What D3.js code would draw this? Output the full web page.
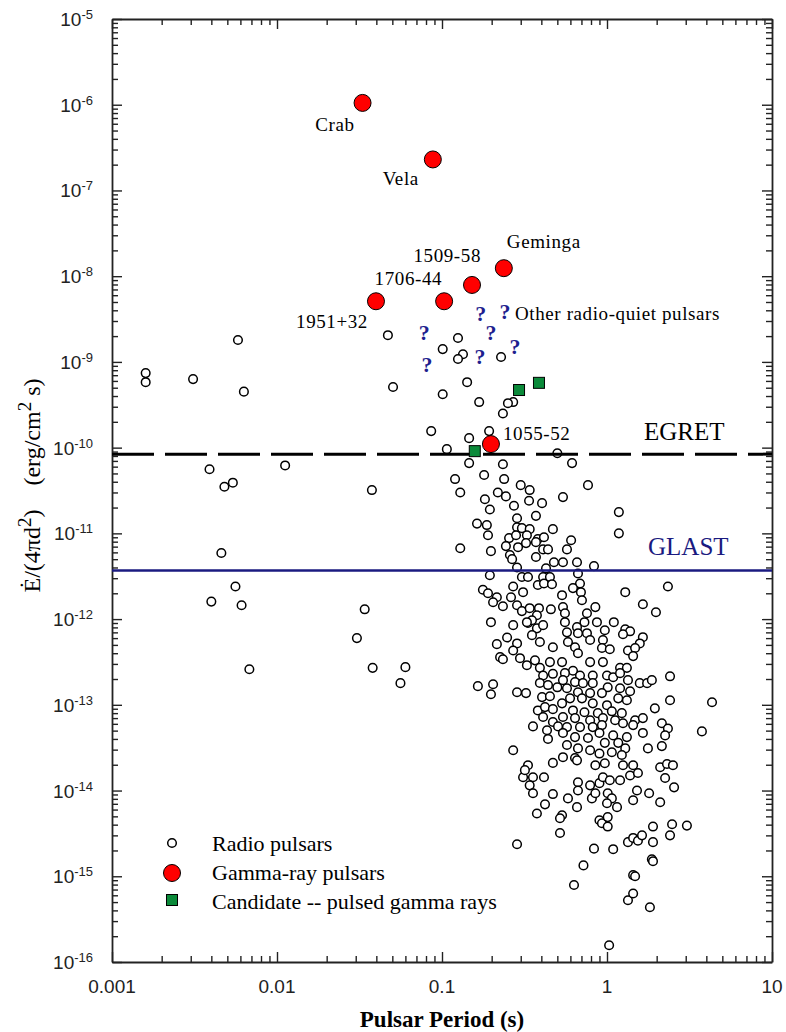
<!DOCTYPE html>
<html>
<head>
<meta charset="utf-8">
<script src="https://cdn.jsdelivr.net/npm/d3@7/dist/d3.min.js"></script>
<style>
  body { margin: 0; background: #fff; }
  svg text { font-family: "Liberation Serif", "Times New Roman", serif; }
  .tick-label { font-family: "Liberation Sans", Arial, sans-serif; font-size: 19px; fill: #222; }
</style>
</head>
<body>
<svg id="chart" width="786" height="1032"></svg>
<script>
// ---- data ----
var xTickValues = [0.001, 0.01, 0.1, 1, 10];
var xTickLabels = ['0.001', '0.01', '0.1', '1', '10'];
var yExponents = [-16, -15, -14, -13, -12, -11, -10, -9, -8, -7, -6, -5];

var gammaNames  = ['Crab', 'Vela', 'Geminga', '1509-58', '1706-44', '1951+32', '1055-52'];
var gammaPeriod = [0.033, 0.088, 0.237, 0.152, 0.103, 0.0398, 0.198];
var gammaFlux   = [1.05e-6, 2.3e-7, 1.24e-8, 7.9e-9, 5.1e-9, 5.1e-9, 1.1e-10];

var candidatePeriod = [0.158, 0.293, 0.387];
var candidateFlux   = [9.1e-11, 4.7e-10, 5.7e-10];

var quietPeriod = [0.078, 0.081, 0.172, 0.241, 0.198, 0.17, 0.277];
var quietFlux   = [2.2e-9, 9.2e-10, 3.6e-9, 3.8e-9, 2.2e-9, 1.14e-9, 1.5e-9];

var egretFlux = 8.4e-11;
var glastFlux = 3.7e-12;

var legendLabels = ['Radio pulsars', 'Gamma-ray pulsars', 'Candidate -- pulsed gamma rays'];

// radio pulsars: [period (s), flux (erg/cm2 s)]
var radioPulsars = [
  [0.0016, 7.4e-10], [0.0016, 5.8e-10], [0.0031, 6.3e-10], [0.0058, 1.8e-9], [0.0063, 4.5e-10],
  [0.0039, 5.6e-11], [0.0048, 3.5e-11], [0.0054, 3.9e-11], [0.0112, 6.2e-11], [0.0376, 3.2e-11],
  [0.0046, 5.9e-12], [0.0056, 2.4e-12], [0.0040, 1.6e-12], [0.0061, 1.45e-12], [0.0068, 2.6e-13],
  [0.034, 1.3e-12], [0.0305, 6.0e-13], [0.038, 2.7e-13],
  [0.047, 2.05e-9], [0.125, 1.9e-9], [0.101, 1.41e-9], [0.134, 1.23e-9], [0.125, 1.08e-9],
  [0.228, 1.14e-9], [0.0505, 5.1e-10], [0.142, 5.8e-10], [0.101, 4.2e-10], [0.168, 3.4e-10],
  [0.27, 3.4e-10], [0.251, 3.3e-10], [0.234, 2.5e-10], [0.086, 1.56e-10], [0.193, 1.56e-10],
  [0.146, 1.29e-10],
  [0.107, 9.6e-11], [0.234, 6.4e-11], [0.146, 6.6e-11], [0.50, 8.6e-11], [0.12, 4.3e-11],
  [0.18, 4.8e-11], [0.238, 4.3e-11], [0.129, 3.0e-11], [0.30, 3.65e-11], [0.34, 3.2e-11],
  [0.218, 3.0e-11], [0.244, 2.7e-11], [0.182, 2.5e-11], [0.337, 2.4e-11], [0.404, 2.25e-11],
  [0.195, 1.9e-11], [0.273, 2.1e-11], [0.371, 1.6e-11], [0.285, 1.5e-11], [0.163, 1.3e-11],
  [0.187, 1.25e-11], [0.19, 9.5e-12], [0.285, 1.18e-11], [0.305, 1.15e-11], [0.34, 1.12e-11],
  [0.47, 1.12e-11], [0.255, 8.8e-12], [0.281, 9.5e-12], [0.327, 9.5e-12], [0.381, 8.6e-12],
  [0.415, 9.0e-12], [0.244, 7.1e-12], [0.289, 6.9e-12], [0.323, 7.7e-12], [0.371, 7.9e-12],
  [0.41, 6.5e-12], [0.439, 6.5e-12], [0.129, 6.7e-12], [0.198, 6.2e-12], [0.258, 5.6e-12],
  [0.266, 5.0e-12], [0.371, 5.3e-12], [0.477, 4.6e-12], [0.285, 4.0e-12], [0.427, 3.9e-12],
  [0.195, 3.25e-12], [0.305, 3.1e-12], [0.332, 3.1e-12], [0.41, 3.1e-12], [0.451, 3.1e-12],
  [0.381, 2.5e-12], [0.415, 2.6e-12], [0.464, 2.55e-12], [0.27, 2.4e-12], [0.177, 2.2e-12],
  [0.19, 2.0e-12], [0.31, 2.06e-12], [0.262, 1.8e-12], [0.215, 1.8e-12], [0.204, 1.57e-12],
  [0.234, 1.41e-12], [0.285, 1.45e-12], [0.305, 1.24e-12], [0.34, 1.34e-12], [0.387, 1.34e-12],
  [0.457, 1.3e-12], [0.376, 1.11e-12],
  [0.060, 2.75e-13], [0.056, 1.79e-13], [0.165, 1.65e-13], [0.204, 1.74e-13], [0.198, 1.33e-13],
  [0.285, 1.4e-13], [0.323, 1.37e-13], [0.198, 9.2e-13], [0.27, 8.5e-13], [0.332, 9.0e-13],
  [0.376, 7.8e-13], [0.41, 8.5e-13], [0.248, 6.1e-13], [0.215, 5.1e-13], [0.285, 5.2e-13],
  [0.225, 3.6e-13], [0.234, 3.4e-13], [0.27, 4.3e-13], [0.297, 3.5e-13], [0.327, 2.9e-13],
  [0.366, 3.3e-13], [0.351, 6.5e-13], [0.392, 5.4e-13], [0.47, 4.7e-13], [0.392, 2.7e-13],
  [0.451, 3.15e-13], [0.41, 2.2e-13], [0.47, 2.3e-13], [0.392, 1.8e-13], [0.439, 1.7e-13],
  [0.50, 1.6e-13], [0.404, 1.23e-13], [0.451, 1.26e-13], [0.381, 8.6e-14], [0.421, 9.4e-14],
  [0.47, 8.9e-14], [0.41, 7.2e-14], [0.47, 6.3e-14], [0.356, 5.6e-14], [0.433, 5.05e-14],
  [0.505, 5.6e-14], [0.439, 4.0e-14], [0.27, 2.95e-14], [0.351, 9.7e-13], [0.327, 9.2e-13],
  [0.614, 6.6e-11], [0.767, 3.65e-11], [0.541, 2.65e-11], [1.18, 1.77e-11], [1.18, 1.0e-11],
  [0.606, 8.3e-12], [0.572, 6.5e-12], [0.541, 4.6e-12], [0.658, 4.6e-12], [0.834, 4.15e-12],
  [0.667, 3.4e-12], [0.686, 2.6e-12], [0.622, 2.3e-12], [0.695, 2.06e-12], [0.705, 1.66e-12],
  [0.534, 1.9e-12], [2.34, 2.4e-12], [1.29, 2.06e-12], [1.65, 1.49e-12], [1.98, 1.2e-12],
  [0.541, 1.38e-12], [0.556, 1.17e-12], [0.756, 1.17e-12], [0.85, 1.38e-12], [0.73, 9.2e-13],
  [0.869, 9.2e-13], [1.1, 9.2e-13], [0.556, 9.2e-13], [0.658, 8.05e-13], [0.97, 7.4e-13],
  [1.29, 7.6e-13], [1.38, 7.2e-13], [0.572, 7.0e-13], [0.667, 6.85e-13], [0.756, 6.85e-13],
  [0.79, 5.7e-13], [0.945, 5.7e-13], [1.25, 6.65e-13], [1.65, 6.15e-13], [1.58, 5.2e-13],
  [0.58, 5.4e-13], [0.64, 4.7e-13], [0.932, 4.6e-13], [1.04, 4.45e-13], [1.34, 4.3e-13],
  [1.48, 4.6e-13], [1.44, 3.7e-13], [0.667, 4.0e-13], [0.945, 3.15e-13], [0.79, 3.15e-13],
  [0.534, 3.15e-13], [1.2, 2.7e-13], [1.32, 2.7e-13], [0.622, 2.5e-13], [0.556, 2.34e-13],
  [0.686, 2.2e-13], [0.82, 2.2e-13], [1.0, 2.2e-13], [1.09, 2.1e-13], [1.2, 2.34e-13],
  [1.34, 1.94e-13], [1.58, 1.79e-13], [1.75, 1.79e-13], [1.87, 1.94e-13], [2.41, 2.15e-13],
  [0.541, 1.94e-13], [0.64, 1.84e-13], [0.715, 1.79e-13], [0.82, 1.79e-13], [1.01, 1.6e-13],
  [1.2, 1.56e-13], [1.38, 1.44e-13], [0.572, 1.56e-13], [0.667, 1.4e-13], [0.79, 1.37e-13],
  [0.932, 1.37e-13], [0.597, 1.19e-13], [0.705, 1.19e-13], [0.82, 1.04e-13], [1.0, 9.9e-14],
  [1.17, 1.19e-13], [1.32, 1.13e-13], [2.41, 1.13e-13], [4.33, 1.07e-13], [1.95, 9.1e-14],
  [0.534, 1.04e-13], [0.622, 8.6e-14], [0.73, 8.2e-14], [0.88, 8.0e-14], [1.07, 8.4e-14],
  [1.23, 8.0e-14], [0.541, 7.2e-14], [0.64, 7.0e-14], [0.79, 6.6e-14], [0.945, 7.0e-14],
  [1.12, 6.6e-14], [1.48, 6.6e-14], [1.65, 7.0e-14], [2.15, 6.1e-14], [2.34, 5.3e-14],
  [0.572, 5.5e-14], [0.686, 5.5e-14], [0.82, 5.5e-14], [0.932, 5.8e-14], [1.25, 6.1e-14],
  [1.44, 5.8e-14], [1.65, 4.7e-14], [2.25, 4.4e-14], [3.76, 4.9e-14], [1.09, 4.4e-14],
  [1.32, 4.2e-14], [0.541, 4.7e-14], [0.64, 4.2e-14], [0.767, 4.1e-14], [0.90, 4.7e-14],
  [0.97, 3.6e-14], [1.17, 3.6e-14], [1.29, 3.1e-14], [2.15, 3.3e-14], [1.77, 3.1e-14],
  [0.572, 3.4e-14], [0.667, 3.1e-14], [0.79, 2.95e-14], [0.90, 2.7e-14], [1.07, 2.8e-14],
  [1.23, 2.6e-14], [0.541, 2.45e-14], [0.64, 2.4e-14],
  [0.332, 1.97e-14], [0.47, 2.1e-14], [0.658, 2.25e-14], [0.85, 1.97e-14], [0.97, 2.08e-14],
  [1.25, 1.97e-14], [1.44, 1.97e-14], [2.1, 1.87e-14], [2.31, 2.04e-14], [2.51, 1.97e-14],
  [0.31, 1.43e-14], [0.356, 1.43e-14], [0.415, 1.43e-14], [0.34, 1.15e-14], [0.318, 1.73e-14],
  [0.356, 9.3e-15], [0.47, 9.1e-15], [0.58, 8.1e-15], [0.667, 1.25e-14], [0.667, 1.0e-14],
  [0.79, 1.15e-14], [0.81, 8.1e-15], [0.90, 1.22e-14], [0.85, 9.3e-15], [0.945, 1.43e-14],
  [1.04, 1.32e-14], [1.2, 1.32e-14], [1.38, 1.5e-14], [1.52, 1.0e-14], [1.44, 7.7e-15],
  [1.54, 1.6e-14], [1.01, 9.3e-15], [1.07, 8.1e-15], [1.0, 7.1e-15], [1.15, 6.4e-15],
  [1.8, 9.3e-15], [2.1, 7.3e-15], [2.25, 1.4e-14], [2.55, 1.09e-14], [0.421, 6.9e-15],
  [0.376, 5.4e-15], [0.534, 5.15e-15], [0.519, 4.75e-15], [0.658, 6.4e-15], [0.519, 3.2e-15],
  [0.90, 4.5e-15], [0.932, 4.15e-15], [1.01, 4.9e-15], [1.01, 3.8e-15], [1.9, 3.8e-15],
  [2.48, 4.05e-15], [3.05, 3.9e-15], [2.41, 3.0e-15], [1.34, 2.5e-15], [1.44, 2.8e-15],
  [1.54, 2.6e-15], [1.63, 3.0e-15], [1.9, 2.5e-15], [0.834, 2.1e-15], [1.09, 2.07e-15],
  [0.72, 1.34e-15], [1.87, 1.58e-15], [1.9, 1.5e-15], [0.631, 7.9e-16], [1.44, 1.03e-15],
  [1.48, 1.0e-15], [1.34, 5.25e-16], [1.44, 6.3e-16], [1.82, 4.35e-16], [1.03, 1.57e-16],
  [0.285, 2.36e-15]
];

(function () {
  'use strict';

  var svg = d3.select('#chart'),
      plotLeft = 112, plotRight = 772, plotTop = 19, plotBottom = 962;

  var x = d3.scaleLog().domain([0.001, 10]).range([plotLeft, plotRight]),
      y = d3.scaleLog().domain([1e-16, 1e-5]).range([plotBottom, plotTop]);

  var yMajor = yExponents.map(function (e) { return Math.pow(10, e); }),
      xMinor = [], yMinor = [];

  xTickValues.slice(0, -1).forEach(function (d) {
    for (var k = 2; k < 10; k++) { xMinor.push(d * k); }
  });
  yMajor.slice(0, -1).forEach(function (d) {
    for (var k = 2; k < 10; k++) { yMinor.push(d * k); }
  });

  function styleAxis(g, keepDomain) {
    g.selectAll('text').remove();
    g.selectAll('line').attr('stroke', '#222').attr('stroke-width', 1.4);
    if (keepDomain) {
      g.select('.domain').attr('stroke', '#222').attr('stroke-width', 1.8);
    } else {
      g.select('.domain').remove();
    }
  }

  [
    [d3.axisBottom, x, xTickValues, xMinor, 'translate(0,' + plotBottom + ')'],
    [d3.axisTop, x, xTickValues, xMinor, 'translate(0,' + plotTop + ')'],
    [d3.axisLeft, y, yMajor, yMinor, 'translate(' + plotLeft + ',0)'],
    [d3.axisRight, y, yMajor, yMinor, 'translate(' + plotRight + ',0)']
  ].forEach(function (a) {
    svg.append('g').attr('transform', a[4])
      .call(a[0](a[1]).tickValues(a[3]).tickSizeInner(-6).tickSizeOuter(0))
      .call(styleAxis, false);
    svg.append('g').attr('transform', a[4])
      .call(a[0](a[1]).tickValues(a[2]).tickSizeInner(-10).tickSizeOuter(0))
      .call(styleAxis, true);
  });

  // tick labels
  svg.append('g').selectAll('text')
    .data(xTickValues)
    .enter().append('text')
    .attr('class', 'tick-label')
    .attr('x', function (d) { return x(d); })
    .attr('y', plotBottom + 31)
    .attr('text-anchor', 'middle')
    .text(function (d, i) { return xTickLabels[i]; });

  var yl = svg.append('g').selectAll('text')
    .data(yExponents)
    .enter().append('text')
    .attr('class', 'tick-label')
    .attr('x', plotLeft - 19)
    .attr('y', function (d) { return y(Math.pow(10, d)) + 7; })
    .attr('text-anchor', 'end');
  yl.append('tspan').text('10');
  yl.append('tspan').attr('dy', -7).style('font-size', '13px').text(function (d) { return String(d); });

  // radio pulsars
  svg.append('g').selectAll('circle')
    .data(radioPulsars)
    .enter().append('circle')
    .attr('cx', function (d) { return x(d[0]); })
    .attr('cy', function (d) { return y(d[1]); })
    .attr('r', 4.3)
    .attr('fill', '#fff')
    .attr('stroke', '#000')
    .attr('stroke-width', 1.5);

  // sensitivity lines
  svg.append('line')
    .attr('x1', plotLeft).attr('x2', plotRight)
    .attr('y1', y(egretFlux)).attr('y2', y(egretFlux))
    .attr('stroke', '#000').attr('stroke-width', 3)
    .attr('stroke-dasharray', '42,11');
  svg.append('line')
    .attr('x1', plotLeft).attr('x2', plotRight)
    .attr('y1', y(glastFlux)).attr('y2', y(glastFlux))
    .attr('stroke', '#1a1a80').attr('stroke-width', 2.5);

  svg.append('text').attr('x', 644).attr('y', y(egretFlux) - 14)
    .style('font-size', '25px').attr('fill', '#000').text('EGRET');
  svg.append('text').attr('x', 648).attr('y', y(glastFlux) - 15)
    .style('font-size', '25px').attr('fill', '#1a1a80').text('GLAST');

  // candidates
  svg.append('g').selectAll('rect')
    .data(candidatePeriod)
    .enter().append('rect')
    .attr('x', function (d) { return x(d) - 5.5; })
    .attr('y', function (d, i) { return y(candidateFlux[i]) - 5.5; })
    .attr('width', 11).attr('height', 11)
    .attr('fill', '#0b8a3a').attr('stroke', '#000').attr('stroke-width', 1);

  // gamma-ray pulsars
  svg.append('g').selectAll('circle')
    .data(gammaPeriod)
    .enter().append('circle')
    .attr('cx', function (d) { return x(d); })
    .attr('cy', function (d, i) { return y(gammaFlux[i]); })
    .attr('r', 8.5)
    .attr('fill', '#ff0000').attr('stroke', '#000').attr('stroke-width', 1);

  // name labels (offset from each point)
  var labelOffset = {
    'Crab': [-8, 28, 'end'], 'Vela': [-14, 26, 'end'], 'Geminga': [3, -20, 'start'],
    '1509-58': [9, -23, 'end'], '1706-44': [-2, -16, 'end'], '1951+32': [-8, 27, 'end'],
    '1055-52': [12, -4, 'start']
  };
  svg.append('g').selectAll('text')
    .data(gammaNames)
    .enter().append('text')
    .attr('x', function (d, i) { return x(gammaPeriod[i]) + labelOffset[d][0]; })
    .attr('y', function (d, i) { return y(gammaFlux[i]) + labelOffset[d][1]; })
    .attr('text-anchor', function (d) { return labelOffset[d][2]; })
    .style('font-size', '19px')
    .style('letter-spacing', '0.6px')
    .text(function (d) { return d; });

  // radio-quiet question marks
  svg.append('g').selectAll('text')
    .data(quietPeriod)
    .enter().append('text')
    .attr('x', function (d) { return x(d); })
    .attr('y', function (d, i) { return y(quietFlux[i]) + 7; })
    .attr('text-anchor', 'middle')
    .style('font-size', '22px').style('font-weight', 'bold')
    .attr('fill', '#1f1f8f')
    .text('?');
  svg.append('text')
    .attr('x', x(quietPeriod[3]) + 10)
    .attr('y', y(quietFlux[3]) + 8)
    .style('font-size', '19px').style('letter-spacing', '0.6px')
    .text('Other radio-quiet pulsars');

  // legend
  var legend = svg.append('g').attr('transform', 'translate(172,843)');
  legend.append('circle').attr('cx', 0).attr('cy', 0).attr('r', 4.3)
    .attr('fill', '#fff').attr('stroke', '#000').attr('stroke-width', 1.5);
  legend.append('circle').attr('cx', 0).attr('cy', 30).attr('r', 8.5)
    .attr('fill', '#ff0000').attr('stroke', '#000');
  legend.append('rect').attr('x', -5.5).attr('y', 51.5).attr('width', 11).attr('height', 11)
    .attr('fill', '#0b8a3a').attr('stroke', '#000');
  legend.selectAll('text.lg')
    .data(legendLabels)
    .enter().append('text')
    .attr('class', 'lg')
    .attr('x', 40)
    .attr('y', function (d, i) { return 8 + i * 29; })
    .style('font-size', '22px')
    .text(function (d) { return d; });

  // axis titles
  svg.append('text')
    .attr('x', (plotLeft + plotRight) / 2).attr('y', 1027)
    .attr('text-anchor', 'middle')
    .style('font-size', '23px').style('font-weight', 'bold')
    .text('Pulsar Period (s)');

  var yt = svg.append('text')
    .attr('transform', 'translate(40,' + ((plotTop + plotBottom) / 2 - 5) + ') rotate(-90)')
    .attr('text-anchor', 'middle')
    .style('font-size', '24px');
  yt.append('tspan').text('\u0116/(4\u03c0d');
  yt.append('tspan').attr('dy', -9).style('font-size', '19px').text('2');
  yt.append('tspan').attr('dy', 9).text(')\u2002\u2002(erg/cm');
  yt.append('tspan').attr('dy', -9).style('font-size', '19px').text('2');
  yt.append('tspan').attr('dy', 9).text(' s)');
})();
</script>
</body>
</html>
